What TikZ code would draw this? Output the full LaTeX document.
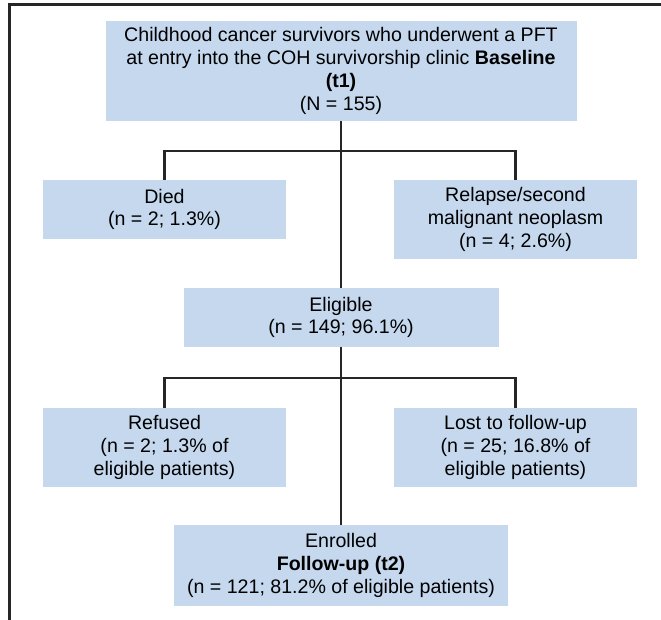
\documentclass[tikz,border=0pt]{standalone}
\usepackage{fontspec}
\setmainfont{Liberation Sans}
\definecolor{boxblue}{RGB}{197,216,238}

\begin{document}
\begin{tikzpicture}[x=1pt,y=-1pt,
  box/.style={fill=boxblue,inner sep=0pt,align=center,
    font=\fontsize{19.6}{22.8}\selectfont},
  side box/.style={box,minimum width=243pt,minimum height=79pt},
  link/.style={draw=black!85,line width=2.4pt}]

  \useasboundingbox (0,0) rectangle (661,620);
  \draw[black!85,line width=2.4pt] (9.5,620) -- (9.5,4.5) -- (661,4.5);

  \node[box,minimum width=471pt,minimum height=100pt] (base) at (341,71)
    {Childhood cancer survivors who underwent a PFT\\
     at entry into the COH survivorship clinic \textbf{Baseline}\\
     \textbf{(t1)}\\(N = 155)};
  \node[side box,minimum height=59pt] (died) at (164.5,209.5)
    {Died\\(n = 2; 1.3\%)};
  \node[side box] (relapse) at (515.5,219.5)
    {Relapse/second\\malignant neoplasm\\(n = 4; 2.6\%)};
  \node[box,minimum width=315pt,minimum height=59pt] (elig) at (341,317.5)
    {Eligible\\(n = 149; 96.1\%)};
  \node[side box] (refused) at (164.5,447.5)
    {Refused\\(n = 2; 1.3\% of\\eligible patients)};
  \node[side box] (lost) at (515.5,447.5)
    {Lost to follow-up\\(n = 25; 16.8\% of\\eligible patients)};
  \node[box,minimum width=334pt,minimum height=81pt] (enrolled) at (341,565.5)
    {Enrolled\\\textbf{Follow-up (t2)}\\(n = 121; 81.2\% of eligible patients)};

  \coordinate (split1) at (341,151);
  \coordinate (split2) at (341,378);

  \draw[link] (base.south) -- (elig.north);
  \draw[link] (died.north) |- (split1) -| (relapse.north);
  \draw[link] (elig.south) -- (enrolled.north);
  \draw[link] (refused.north) |- (split2) -| (lost.north);
\end{tikzpicture}
\end{document}
